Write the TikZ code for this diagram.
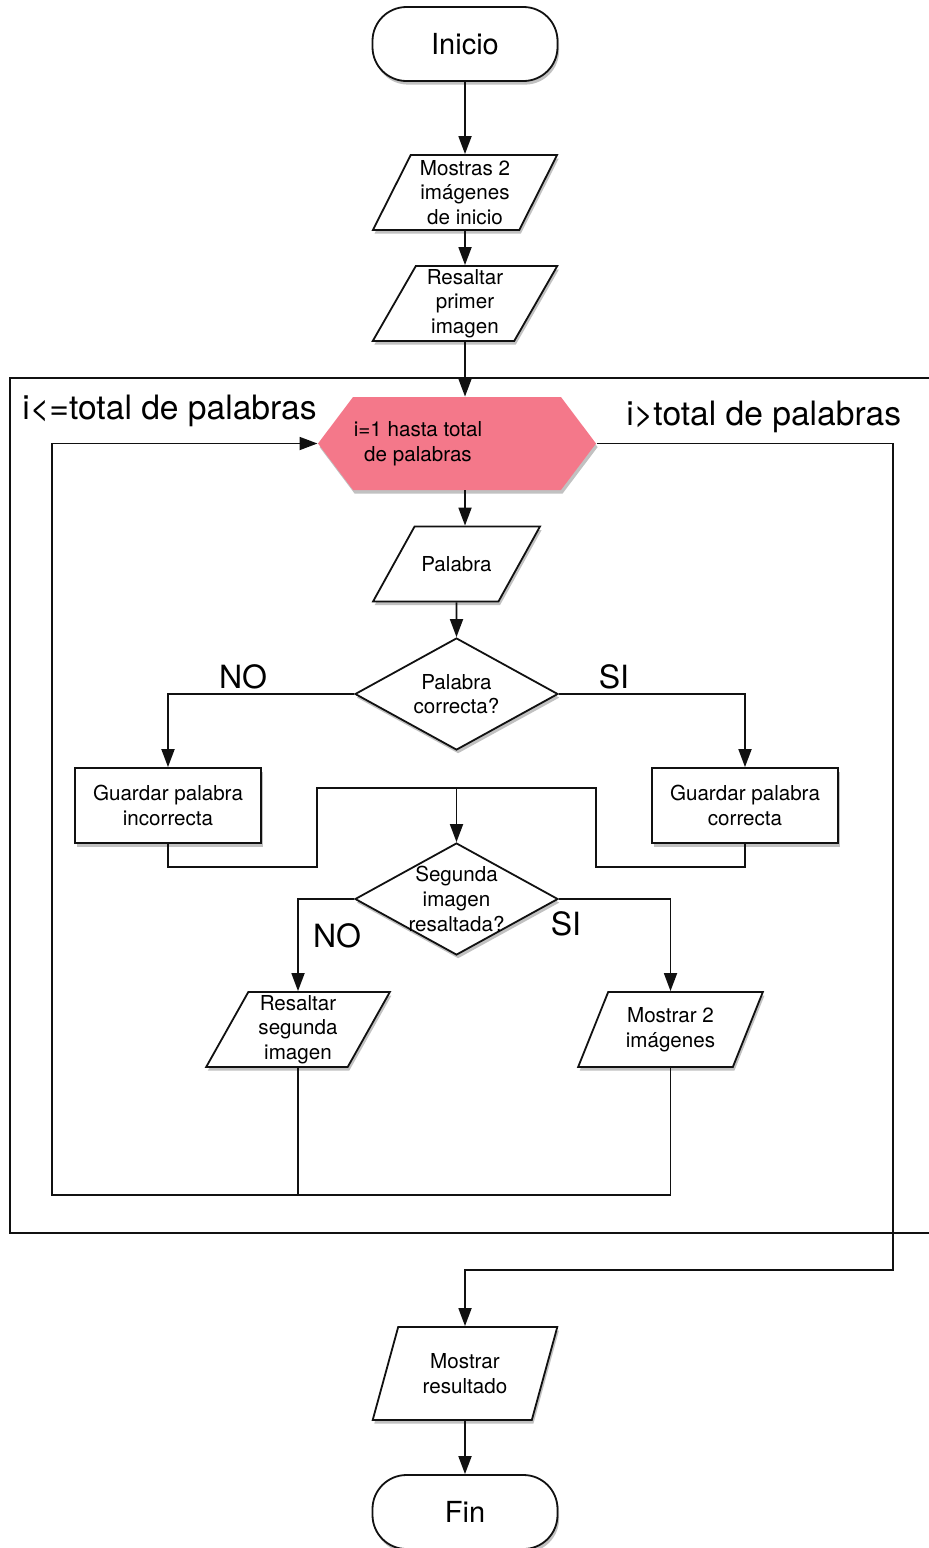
\documentclass[tikz,border=0pt]{standalone}
\usepackage{fontspec}
\setmainfont{TeX Gyre Heros}
\usepackage{tikz}
\usetikzlibrary{arrows.meta,positioning,shapes.geometric,shapes.symbols,shadows}
\definecolor{LoopPink}{HTML}{F4788A}
\definecolor{FLine}{HTML}{111111}

\begin{document}
\begin{tikzpicture}[
  x=0.5pt,y=-0.5pt,
  every node/.style={font=\fontsize{10.3}{12.3}\selectfont},
  shd/.style={drop shadow={shadow xshift=0.8pt,shadow yshift=-1.8pt,opacity=.35,fill=black!70}},
  term/.style={draw=FLine,line width=0.9pt,rounded corners=17pt,fill=white,shd,
    minimum width=92.5pt,minimum height=37pt,font=\fontsize{14.5}{16}\selectfont},
  io/.style={trapezium,trapezium left angle=64,trapezium right angle=116,
    trapezium stretches=true,draw=FLine,line width=0.9pt,fill=white,shd,
    minimum width=92.5pt,minimum height=37.5pt,inner sep=0pt,align=center},
  proc/.style={rectangle,draw=FLine,line width=0.9pt,fill=white,shd,
    minimum width=93pt,minimum height=37.5pt,align=center},
  dec/.style={diamond,draw=FLine,line width=0.9pt,fill=white,shd,
    minimum width=101.5pt,minimum height=56pt,inner sep=0pt},
  hex/.style={signal,signal to=west and east,signal pointer angle=106,
    fill=LoopPink,shd,minimum width=139pt,minimum height=46.5pt,inner sep=0pt},
  txt/.style={align=center,font=\fontsize{10.3}{12.3}\selectfont},
  lbl/.style={font=\fontsize{16}{18}\selectfont,inner sep=0pt},
  side/.style={font=\fontsize{16.8}{19}\selectfont,inner sep=0pt},
  a/.style={-{Triangle[length=9pt,width=6.5pt]},line width=0.9pt,color=FLine},
  l/.style={line width=0.9pt,color=FLine}
]
  \useasboundingbox (0,0) rectangle (928,1548);
  % loop frame, open to the right edge
  \draw[l] (940,378) -- (10,378) -- (10,1233) -- (940,1233);

  \node[term] (ini) at (465,44) {Inicio};
  \node[io] (mos) at (465,192.5) {Mostras 2\\imágenes\\de inicio};
  \node[io] (prim) at (465,303.5) {Resaltar\\primer\\imagen};
  \node[hex,label={[txt,xshift=-19.5pt]center:i=1 hasta total\\de palabras}] (loop) at (457,443.5) {};
  \node[io,minimum width=83.5pt,inner ysep=14pt] (pal) at (456.5,564) {Palabra};
  \node[dec,label={[txt]center:Palabra\\correcta?}] (d1) at (456.5,694) {};
  \node[proc] (lbox) at (168,805.5) {Guardar palabra\\incorrecta};
  \node[proc] (rbox) at (745,805.5) {Guardar palabra\\correcta};
  \node[dec,label={[txt]center:Segunda\\imagen\\resaltada?}] (d2) at (456.5,899) {};
  \node[io] (prl) at (298,1029.5) {Resaltar\\segunda\\imagen};
  \node[io] (prr) at (670.5,1029.5) {Mostrar 2\\imágenes};
  \node[io,minimum height=46.5pt,trapezium left angle=68,trapezium right angle=112] (res) at (465,1373.5) {Mostrar\\resultado};
  \node[term] (fin) at (465,1512) {Fin};

  % labels
  \node[side,anchor=west] (lin) at (22,411) {i<=total de palabras};
  \node[side,anchor=west] (lout) at (626,417) {i>total de palabras};
  \node[lbl] (no1) at (243,677) {NO};
  \node[lbl] (si1) at (614,677) {SI};
  \node[lbl] (no2) at (337,936) {NO};
  \node[lbl] (si2) at (566,924) {SI};

  \coordinate (mA) at (317,867);
  \coordinate (mB) at (596,788);
  \coordinate (mC) at (745,867);
  \coordinate (bl) at (52,1195);
  \coordinate (ex) at (893,1270);

  \draw[a] (ini) -- (mos);
  \draw[a] (mos) -- (prim);
  \draw[a] (prim.south) -- (prim.south |- loop.north);
  \draw[a] (prim.south |- loop.south) -- (prim.south |- pal.north);
  \draw[a] (pal) -- (d1);
  \draw[a] (d1.west) -| (lbox.north);
  \draw[a] (d1.east) -| (rbox.north);
  \draw[l] (lbox.south) |- (mA) |- (mB) |- (mC) -- (rbox.south);
  \draw[a] (d2.north |- mB) -- (d2.north);
  \draw[a] (d2.west) -| (prl.north);
  \draw[a] (d2.east) -| (prr.north);
  \draw[l] (prl.south) -- (prl.south |- bl);
  \draw[a] (prr.south) |- (bl) |- (loop.west);
  \draw[a] (loop.east) -| (ex) -| (res.north);
  \draw[a] (res) -- (fin);
\end{tikzpicture}
\end{document}
